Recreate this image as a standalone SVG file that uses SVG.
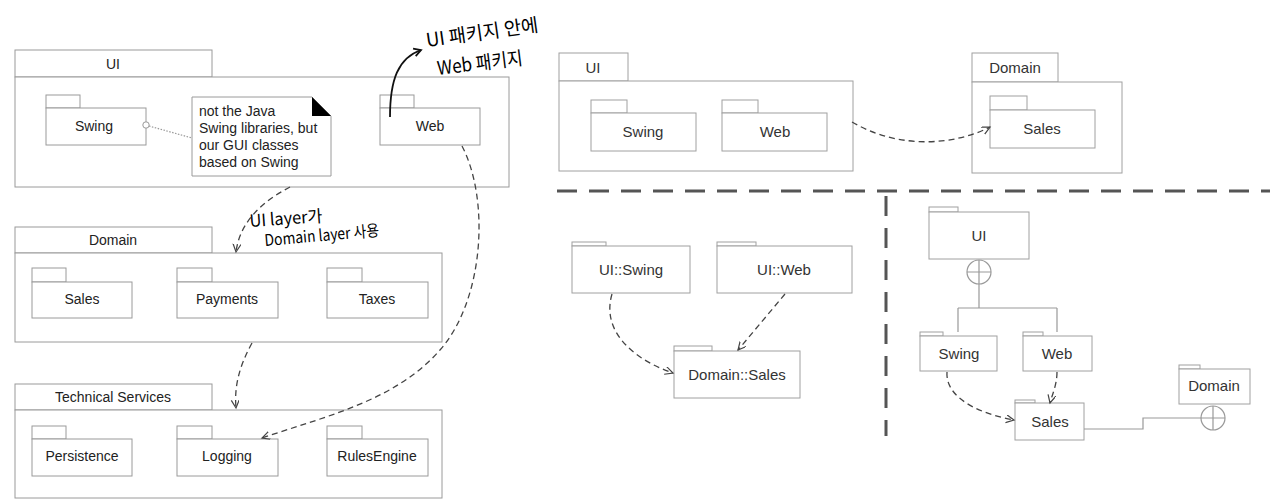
<svg xmlns="http://www.w3.org/2000/svg" width="1280" height="500" viewBox="0 0 1280 500">
<style>
.pk{fill:#fff;stroke:#9a9a9a;stroke-width:1}
.pk2{fill:#fff;stroke:#a0a0a0;stroke-width:1}
.t{font-family:"Liberation Sans",Arial,sans-serif;font-size:14px;fill:#222;text-anchor:middle}
.t2{font-family:"Liberation Sans",Arial,sans-serif;font-size:15px;fill:#333;text-anchor:middle}
.nt{font-family:"Liberation Sans",Arial,sans-serif;font-size:14px;fill:#222}
.dep{fill:none;stroke:#444;stroke-width:1.3;stroke-dasharray:6 4}
.ln{fill:none;stroke:#999;stroke-width:1.2}
.sep{fill:none;stroke:#555;stroke-width:3;stroke-dasharray:20 12}
.hw{font-family:"Noto Sans CJK KR","Noto Sans",sans-serif;fill:#000;font-weight:400}
</style>
<defs>
<marker id="ah" markerWidth="10" markerHeight="10" refX="8" refY="4" orient="auto" markerUnits="userSpaceOnUse">
<path d="M0,0 L8,4 L0,8" fill="none" stroke="#444" stroke-width="1.2"/>
</marker>
<marker id="ahb" markerWidth="12" markerHeight="12" refX="8" refY="5" orient="auto" markerUnits="userSpaceOnUse">
<path d="M1,1 L8,5 L1,9" fill="none" stroke="#111" stroke-width="1.8"/>
</marker>
</defs>
<rect width="1280" height="500" fill="#fff"/>

<!-- Left: UI package -->
<g id="left-ui">
<rect class="pk" x="15" y="50" width="197" height="27"/>
<rect class="pk" x="15" y="77" width="494" height="110"/>
<text class="t" x="113" y="69">UI</text>
</g>
<g id="left-ui-swing">
<rect class="pk" x="46" y="95" width="34" height="13"/>
<rect class="pk" x="46" y="108" width="100" height="37"/>
<text class="t" x="94" y="131">Swing</text>
</g>
<g id="left-ui-web">
<rect class="pk" x="380" y="95" width="34" height="13"/>
<rect class="pk" x="380" y="108" width="100" height="37"/>
<text class="t" x="430" y="131">Web</text>
</g>
<g id="left-note">
<polygon points="192,97 312,97 331,116 331,176 192,176" fill="#fff" stroke="#9a9a9a"/>
<polygon points="312,97 312,116 331,116" fill="#000"/>
<text class="nt" x="199" y="116">not the Java</text>
<text class="nt" x="199" y="133">Swing libraries, but</text>
<text class="nt" x="199" y="150">our GUI classes</text>
<text class="nt" x="199" y="167">based on Swing</text>
</g>

<!-- Left: Domain package -->
<g id="left-domain">
<rect class="pk" x="15" y="227" width="197" height="26"/>
<rect class="pk" x="15" y="253" width="427" height="89"/>
<text class="t" x="113" y="245">Domain</text>
</g>
<g id="left-domain-sales">
<rect class="pk" x="32" y="268" width="34" height="14"/>
<rect class="pk" x="32" y="282" width="100" height="36"/>
<text class="t" x="82" y="304">Sales</text>
</g>
<g id="left-domain-payments">
<rect class="pk" x="177" y="268" width="35" height="14"/>
<rect class="pk" x="177" y="282" width="101" height="36"/>
<text class="t" x="227" y="304">Payments</text>
</g>
<g id="left-domain-taxes">
<rect class="pk" x="327" y="268" width="35" height="14"/>
<rect class="pk" x="327" y="282" width="101" height="36"/>
<text class="t" x="377" y="304">Taxes</text>
</g>

<!-- Left: Technical Services -->
<g id="left-tech">
<rect class="pk" x="15" y="384" width="197" height="26"/>
<rect class="pk" x="15" y="410" width="427" height="88"/>
<text class="t" x="113" y="402">Technical Services</text>
</g>
<g id="left-tech-persistence">
<rect class="pk" x="32" y="426" width="34" height="13"/>
<rect class="pk" x="32" y="439" width="100" height="37"/>
<text class="t" x="82" y="461">Persistence</text>
</g>
<g id="left-tech-logging">
<rect class="pk" x="177" y="426" width="35" height="13"/>
<rect class="pk" x="177" y="439" width="101" height="37"/>
<text class="t" x="227" y="461">Logging</text>
</g>
<g id="left-tech-rules">
<rect class="pk" x="327" y="426" width="35" height="13"/>
<rect class="pk" x="327" y="439" width="101" height="37"/>
<text class="t" x="377" y="461">RulesEngine</text>
</g>

<!-- Right top -->
<g id="rt-ui">
<rect class="pk2" x="559" y="53" width="69" height="28"/>
<rect class="pk2" x="559" y="81" width="294" height="90"/>
<text class="t2" x="593" y="73">UI</text>
</g>
<g id="rt-ui-swing">
<rect class="pk2" x="591" y="100" width="36" height="13"/>
<rect class="pk2" x="591" y="113" width="105" height="38"/>
<text class="t2" x="643" y="137">Swing</text>
</g>
<g id="rt-ui-web">
<rect class="pk2" x="722" y="100" width="36" height="13"/>
<rect class="pk2" x="722" y="113" width="105" height="38"/>
<text class="t2" x="775" y="137">Web</text>
</g>
<g id="rt-domain">
<rect class="pk2" x="972" y="53" width="86" height="29"/>
<rect class="pk2" x="972" y="82" width="150" height="91"/>
<text class="t2" x="1015" y="73">Domain</text>
</g>
<g id="rt-domain-sales">
<rect class="pk2" x="990" y="96" width="37" height="14"/>
<rect class="pk2" x="990" y="110" width="105" height="38"/>
<text class="t2" x="1042" y="134">Sales</text>
</g>

<!-- Right bottom-left -->
<g id="rbl-uiswing">
<rect class="pk2" x="572" y="242" width="34" height="4"/>
<rect class="pk2" x="572" y="246" width="118" height="47"/>
<text class="t2" x="631" y="275">UI::Swing</text>
</g>
<g id="rbl-uiweb">
<rect class="pk2" x="717" y="242" width="39" height="4"/>
<rect class="pk2" x="717" y="246" width="135" height="47"/>
<text class="t2" x="784" y="275">UI::Web</text>
</g>
<g id="rbl-domainsales">
<rect class="pk2" x="674" y="346" width="38" height="5"/>
<rect class="pk2" x="674" y="351" width="126" height="47"/>
<text class="t2" x="737" y="380">Domain::Sales</text>
</g>

<!-- Right bottom-right -->
<g id="rbr-ui">
<rect class="pk2" x="929" y="207" width="29" height="5"/>
<rect class="pk2" x="929" y="212" width="100" height="47"/>
<text class="t2" x="979" y="241">UI</text>
</g>
<g id="rbr-swing">
<rect class="pk2" x="920" y="332" width="23" height="4"/>
<rect class="pk2" x="920" y="336" width="77" height="35"/>
<text class="t2" x="959" y="359">Swing</text>
</g>
<g id="rbr-web">
<rect class="pk2" x="1023" y="332" width="20" height="4"/>
<rect class="pk2" x="1023" y="336" width="69" height="35"/>
<text class="t2" x="1057" y="359">Web</text>
</g>
<g id="rbr-sales">
<rect class="pk2" x="1015" y="400" width="20" height="3"/>
<rect class="pk2" x="1015" y="403" width="69" height="37"/>
<text class="t2" x="1050" y="427">Sales</text>
</g>
<g id="rbr-domain">
<rect class="pk2" x="1179" y="365" width="21" height="4"/>
<rect class="pk2" x="1179" y="369" width="71" height="35"/>
<text class="t2" x="1214" y="391">Domain</text>
</g>

<!-- Connectors -->
<g id="connectors">
<line class="ln" x1="149" y1="126" x2="192" y2="138" stroke-dasharray="1.5 1.5"/>
<circle cx="146" cy="125" r="3.2" fill="#fff" stroke="#999"/>
<path class="dep" d="M290,187 C265,200 240,220 236,252" marker-end="url(#ah)"/>
<path class="dep" d="M252,343 C240,365 234,385 236,408" marker-end="url(#ah)"/>
<path class="dep" d="M462,146 C490,200 484,300 440,350 S330,415 262,438" marker-end="url(#ah)"/>
<path class="dep" d="M852,122 C900,150 955,145 990,127" marker-end="url(#ah)"/>
<path class="dep" d="M612,294 C600,335 640,362 673,373" marker-end="url(#ah)"/>
<path class="dep" d="M785,294 L738,350" marker-end="url(#ah)"/>
<path class="dep" d="M947,372 C945,400 985,415 1014,420" marker-end="url(#ah)"/>
<path class="dep" d="M1057,372 C1057,385 1052,395 1050,403" marker-end="url(#ah)"/>
<path class="ln" d="M979,284 L979,308 M958,308 L1057,308 M958,308 L958,332 M1057,308 L1057,332"/>
<circle cx="979" cy="272" r="12" fill="#fff" stroke="#999" stroke-width="1.2"/>
<path class="ln" d="M967,272 L991,272 M979,260 L979,284"/>
<path class="ln" d="M1084,429 L1143,429 L1143,418 L1201,418"/>
<circle cx="1213" cy="418" r="12" fill="#fff" stroke="#999" stroke-width="1.2"/>
<path class="ln" d="M1201,418 L1225,418 M1213,406 L1213,430"/>
<path class="sep" d="M557,191 L1270,191"/>
<path class="sep" d="M886,196 L886,436"/>
<path d="M390,117 C390,80 398,58 421,50" fill="none" stroke="#111" stroke-width="1.8" marker-end="url(#ahb)"/>
</g>

<!-- Handwritten annotations -->
<text class="hw" font-size="19" transform="translate(427,47) rotate(-8)" textLength="113" lengthAdjust="spacingAndGlyphs">UI 패키지 안에</text>
<text class="hw" font-size="19" transform="translate(438,75) rotate(-7)" textLength="86" lengthAdjust="spacingAndGlyphs">Web 패키지</text>
<text class="hw" font-size="17" transform="translate(250,227) rotate(-4)" textLength="73" lengthAdjust="spacingAndGlyphs">UI layer가</text>
<text class="hw" font-size="16" transform="translate(265,246) rotate(-5)" textLength="115" lengthAdjust="spacingAndGlyphs">Domain layer 사용</text>
</svg>
